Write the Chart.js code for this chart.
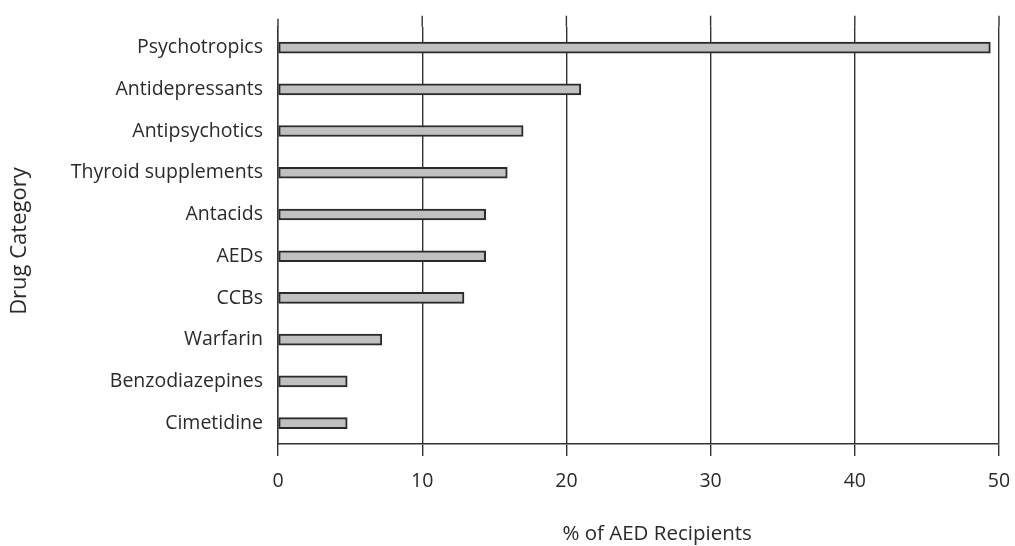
<!DOCTYPE html>
<html>
<head>
<meta charset="utf-8">
<script src="https://cdn.jsdelivr.net/npm/chart.js@4"></script>
<style>
  html, body { margin: 0; padding: 0; background: #fff; }
  #wrap { width: 1015px; height: 546px; }
</style>
</head>
<body>
<div id="wrap"><canvas id="bar-chart"></canvas></div>
<script>
const categories = ["Psychotropics", "Antidepressants", "Antipsychotics", "Thyroid supplements", "Antacids",
  "AEDs", "CCBs", "Warfarin", "Benzodiazepines", "Cimetidine"];
const percentRecipients = [49.4, 21.0, 17.0, 15.9, 14.4, 14.4, 12.9, 7.2, 4.8, 4.8];
const xTicks = [0, 10, 20, 30, 40, 50];

const lineColor = "#333333";
const textColor = "#2a2a2a";
const fontFamily = "'Open Sans', sans-serif";

// grid lines poke a bit above the plot area in the original
const extendGrid = {
  id: 'extendGrid',
  afterDraw(chart) {
    const ctx = chart.ctx;
    const x = chart.scales.x;
    const top = chart.chartArea.top;
    ctx.save();
    ctx.strokeStyle = lineColor;
    ctx.lineWidth = 1.4;
    xTicks.forEach(v => {
      const px = x.getPixelForValue(v);
      ctx.beginPath();
      ctx.moveTo(px, top - (v === 0 ? 8 : 11));
      ctx.lineTo(px, top);
      ctx.stroke();
    });
    ctx.restore();
  }
};

new Chart(document.getElementById("bar-chart"), {
  type: 'bar',
  data: {
    labels: categories,
    datasets: [{
      data: percentRecipients,
      backgroundColor: "#c0c0c0",
      borderColor: "#2a2a2a",
      borderWidth: 2,
      borderSkipped: false,
      barThickness: 11
    }]
  },
  plugins: [extendGrid],
  options: {
    indexAxis: 'y',
    responsive: true,
    maintainAspectRatio: false,
    animation: false,
    layout: { padding: { top: 21, right: 16, left: 0, bottom: 0 } },
    plugins: {
      legend: { display: false },
      tooltip: { enabled: false }
    },
    scales: {
      x: {
        type: 'linear',
        min: 0,
        max: 50,
        afterBuildTicks: scale => { scale.ticks = xTicks.map(v => ({ value: v })); },
        afterFit: scale => {
          scale.height = 102;
          scale.paddingLeft = 0;
          scale.paddingRight = 0;
        },
        grid: {
          color: lineColor,
          lineWidth: 1.4,
          tickLength: 12,
          tickColor: lineColor
        },
        border: { display: true, color: lineColor, width: 1.4 },
        ticks: {
          color: textColor,
          padding: 14,
          font: { family: fontFamily, size: 19.5 }
        },
        title: {
          display: true,
          // leading spaces nudge the title right, it sits off-centre in the original
          text: "       % of AED Recipients",
          color: textColor,
          padding: { top: 4, bottom: 0 },
          font: { family: fontFamily, size: 20.5 }
        }
      },
      y: {
        afterFit: scale => { scale.width = 278; },
        grid: { display: false, drawTicks: false },
        border: { display: true, color: lineColor, width: 1.4 },
        ticks: {
          color: textColor,
          padding: 15,
          font: { family: fontFamily, size: 19.5 }
        },
        title: {
          display: true,
          text: "Drug Category  ",
          color: textColor,
          padding: { top: 7, bottom: 0 },
          font: { family: fontFamily, size: 22 }
        }
      }
    }
  }
});
</script>
</body>
</html>
